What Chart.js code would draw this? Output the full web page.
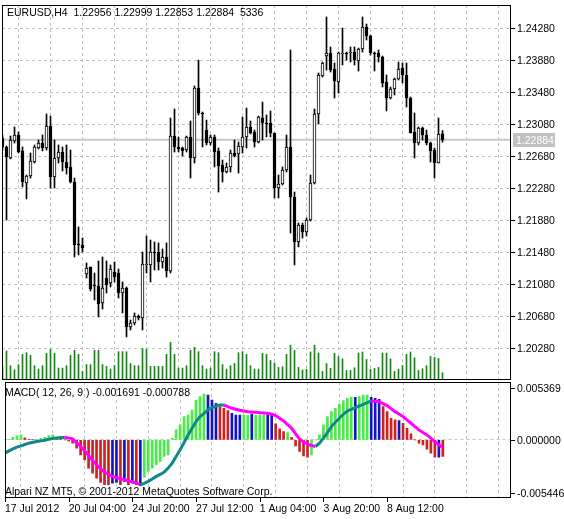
<!DOCTYPE html>
<html lang="en">
<head>
<meta charset="UTF-8">
<title>EURUSD H4 MACD</title>
<script src="https://cdn.jsdelivr.net/npm/chart.js"></script>
<style>
  body { margin: 0; background: #fff; }
  #wrap { position: relative; width: 564px; height: 519px; }
  #priceBox { position: absolute; left: 0; top: 0; width: 564px; height: 381px; }
  #macdBox { position: absolute; left: 0; top: 381px; width: 564px; height: 138px; }
</style>
</head>
<body>
<div id="wrap">
  <div id="priceBox"><canvas id="priceChart"></canvas></div>
  <div id="macdBox"><canvas id="macdChart"></canvas></div>
</div>
<script>
// EURUSD H4 candles, [open, high, low, close]
var candles = [
  [1.22905,1.22943,1.22755,1.22793],[1.22793,1.22805,1.2188,1.22668],[1.22655,1.2293,1.22643,1.2288],
  [1.22868,1.23043,1.22843,1.22943],[1.22943,1.2298,1.22718,1.2273],[1.22743,1.22793,1.22293,1.22355],
  [1.22343,1.22443,1.22143,1.2243],[1.2243,1.22718,1.22405,1.22618],[1.22605,1.22818,1.22593,1.22793],
  [1.2278,1.2288,1.22768,1.22843],[1.22843,1.22943,1.22743,1.2278],[1.2278,1.23205,1.22755,1.23055],
  [1.23055,1.2318,1.2228,1.22418],[1.22418,1.2288,1.2228,1.22655],[1.22655,1.22818,1.22593,1.2273],
  [1.2273,1.22793,1.22493,1.22605],[1.22605,1.22818,1.22455,1.2253],[1.22543,1.22755,1.22343,1.22355],
  [1.22355,1.22405,1.21418,1.21568],[1.2158,1.21793,1.21443,1.21568],[1.21568,1.21655,1.2148,1.2153],
  [1.21205,1.21343,1.21155,1.2128],[1.21293,1.21293,1.20993,1.21018],[1.21068,1.21218,1.2088,1.21055],
  [1.21055,1.21368,1.20668,1.2083],[1.20843,1.21418,1.20768,1.2103],[1.21155,1.21368,1.20968,1.21068],
  [1.21093,1.21318,1.21043,1.21268],[1.2123,1.21355,1.21105,1.21168],[1.21218,1.21268,1.20905,1.20968],
  [1.20968,1.21105,1.20718,1.2103],[1.2103,1.21043,1.20418,1.20543],[1.20543,1.2063,1.20505,1.20593],
  [1.20593,1.20718,1.20568,1.2068],[1.2068,1.20693,1.2063,1.20655],[1.20655,1.2148,1.20505,1.2133],
  [1.21318,1.2168,1.21218,1.2133],[1.21318,1.2163,1.21105,1.2148],[1.2148,1.21605,1.21255,1.21468],
  [1.2148,1.21593,1.21255,1.21355],[1.21355,1.21518,1.2128,1.21418],[1.21418,1.21593,1.21168,1.21243],
  [1.21243,1.23155,1.21218,1.2293],[1.2293,1.23268,1.2273,1.22793],[1.22793,1.22918,1.2273,1.22768],
  [1.2278,1.22793,1.2268,1.22743],[1.22755,1.2293,1.2273,1.22918],[1.22918,1.23118,1.22405,1.22655],
  [1.22655,1.23555,1.22593,1.2353],[1.2353,1.2388,1.23193,1.23218],[1.23218,1.2323,1.22793,1.23205],
  [1.23005,1.2313,1.22818,1.22843],[1.22843,1.22943,1.22818,1.22918],[1.22918,1.22943,1.22543,1.2273],
  [1.22743,1.2278,1.2223,1.22555],[1.22568,1.2263,1.22355,1.2248],[1.2248,1.22593,1.22468,1.22543],
  [1.22543,1.22755,1.2248,1.22718],[1.22718,1.2288,1.22668,1.2268],[1.22705,1.22855,1.22468,1.22805],
  [1.22793,1.23168,1.22718,1.22918],[1.22918,1.2328,1.2278,1.23043],[1.23043,1.23118,1.22955,1.22968],
  [1.2298,1.23005,1.22793,1.22855],[1.22855,1.2318,1.22843,1.23168],[1.23155,1.23355,1.2288,1.23093],
  [1.23093,1.23193,1.22918,1.2308],[1.23093,1.23243,1.22918,1.22968],[1.22968,1.22968,1.22155,1.2228],
  [1.2228,1.22443,1.22155,1.2233],[1.2233,1.22543,1.22318,1.22505],[1.22505,1.22943,1.2248,1.22793],
  [1.22793,1.24005,1.21718,1.22168],[1.22168,1.2223,1.21318,1.21605],[1.21605,1.21843,1.21543,1.21818],
  [1.21818,1.21843,1.21655,1.2173],[1.2173,1.21905,1.2168,1.2188],[1.2188,1.22443,1.21868,1.22343],
  [1.22343,1.23268,1.2233,1.23205],[1.23205,1.23718,1.2308,1.23693],[1.2368,1.23855,1.23668,1.23843],
  [1.2393,1.24418,1.23755,1.23968],[1.23968,1.24043,1.2373,1.23755],[1.23768,1.23843,1.23405,1.23618],
  [1.23605,1.2398,1.23468,1.23968],[1.23955,1.2428,1.23818,1.23968],[1.23968,1.2398,1.2388,1.23955],
  [1.23968,1.24043,1.23855,1.2398],[1.2398,1.24043,1.23818,1.2388],[1.23868,1.2403,1.23743,1.24018],
  [1.24018,1.24418,1.2398,1.24293],[1.24293,1.2433,1.2413,1.2418],[1.2418,1.24193,1.23943,1.23968],
  [1.23968,1.2398,1.23743,1.23955],[1.23968,1.24005,1.23855,1.23918],[1.23918,1.2393,1.23543,1.23593],
  [1.23605,1.23693,1.23243,1.23405],[1.23405,1.23543,1.23393,1.23518],[1.23518,1.23655,1.23443,1.23643],
  [1.23643,1.23855,1.2363,1.23768],[1.2378,1.23843,1.23593,1.23693],[1.23693,1.23843,1.23293,1.23405],
  [1.23405,1.23418,1.22968,1.22968],[1.2298,1.23218,1.22655,1.22843],[1.22843,1.23043,1.22818,1.2303],
  [1.2303,1.23043,1.2288,1.22943],[1.22943,1.23005,1.22818,1.22843],[1.22843,1.22855,1.22605,1.22743],
  [1.22755,1.2278,1.22405,1.22593],[1.22593,1.23155,1.22593,1.22955],[1.22956,1.22999,1.22853,1.22884]
];

var volumes = [
  10000,21250,10500,7500,11250,18750,20000,18000,10500,8000,10500,
  19500,22500,19500,8750,8750,10500,18000,21750,18750,6250,
  11250,11250,21750,21750,11250,10000,8000,10500,20750,20750,
  20750,12000,10500,10500,23000,22500,10000,10000,10000,10000,
  18750,27500,18750,8750,8750,10500,21750,24000,20750,10500,
  8000,8750,20750,20000,11250,8000,10500,12000,20000,20750,
  18750,10500,8000,8000,19500,18750,
  14250,12500,9250,9750,18750,25500,21750,9250,7250,7750,
  20500,25500,19750,6250,12000,8500,19500,17250,15500,7000,
  7000,9000,19750,20500,15000,7750,8500,9250,19750,19750,
  15500,6250,8000,10500,18750,20500,16250,7000,8250,10500,
  17250,16500,15750,5336
];

var macdMain = [
  0,0.000068,0.000274,0.00041,0.000513,0.000205,0.000034,0.000034,0.000068,0.000171,
  0.000274,0.000445,0.000513,0.000171,0.000034,0,-0.000103,-0.000342,-0.000855,-0.001539,
  -0.002052,-0.002907,-0.00342,-0.003933,-0.004378,-0.004617,-0.004617,-0.004446,-0.004378,-0.004617,
  -0.004275,-0.004617,-0.004446,-0.004617,-0.00472,-0.00383,-0.003249,-0.002907,-0.002565,-0.002223,
  -0.00171,-0.001539,0.000171,0.001026,0.001539,0.002394,0.002565,0.003078,0.004104,0.004446,
  0.00472,0.004617,0.004104,0.003762,0.00342,0.003249,0.00301,0.002736,0.002565,0.002565,
  0.002565,0.002565,0.002668,0.002565,0.002565,0.002565,0.002565,0.002565,0.001642,0.001129,
  0.000855,0.000752,0.000274,-0.000616,-0.001197,-0.001642,-0.001778,-0.001539,0,0.000513,
  0.001539,0.002394,0.002907,0.003249,0.003694,0.004036,0.004275,0.004378,0.004378,0.004446,
  0.004617,0.004617,0.004378,0.004275,0.004172,0.00342,0.002907,0.002223,0.002052,0.001984,
  0.00171,0.001197,0.000616,0,-0.000342,-0.000513,-0.000958,-0.001368,-0.001778,-0.001778,-0.001691
];
// bar state of the coloured histogram: g = green, r = red, b = blue
var macdState = [
  'g','g','g','g','g','r','r','r','g','g','g','g','g','r','r','r','r','r','r','r',
  'r','r','r','r','r','r','r','b','b','r','b','r','b','r','b','g','g','g','g','g',
  'g','g','g','g','g','g','g','g','g','g','g','b','b','b','r','r','r','b','b','b',
  'g','g','b','g','g','g','b','b','r','r','r','g','r','r','r','r','r','g','g','g',
  'g','g','g','g','g','g','g','g','b','g','g','g','b','b','b','r','r','r','r','b',
  'r','r','r','r','r','r','r','r','r','b','r'
];
var macdSignal = [
  -0.001368,-0.001129,-0.000923,-0.000752,-0.000616,-0.000479,-0.000342,-0.000239,-0.000171,-0.000103,
  -0.000034,0.000068,0.000137,0.000205,0.000239,0.000239,0.000205,0.000103,-0.000274,-0.000684,
  -0.001129,-0.001607,-0.00212,-0.002565,-0.002975,-0.003317,-0.003557,-0.003762,-0.003899,-0.004001,
  -0.004104,-0.004207,-0.004309,-0.004446,-0.004617,-0.00448,-0.004275,-0.004036,-0.003762,-0.003557,
  -0.003317,-0.002907,-0.002394,-0.00171,-0.001026,-0.000274,0.000513,0.001197,0.001881,0.002394,
  0.002736,0.003078,0.003317,0.003488,0.003591,0.003591,0.00342,0.003249,0.003146,0.003044,
  0.002975,0.002907,0.002873,0.002839,0.002804,0.00277,0.002736,0.002633,0.002497,0.002223,
  0.001949,0.001573,0.001197,0.00065,0.000103,-0.000205,-0.000445,-0.000581,-0.000684,-0.000342,
  0.000171,0.000752,0.001368,0.001813,0.002223,0.002633,0.002975,0.003146,0.003317,0.003488,
  0.003659,0.00383,0.004001,0.003967,0.003933,0.003728,0.003523,0.003215,0.002907,0.002668,
  0.002394,0.002052,0.00171,0.001368,0.001026,0.000752,0.000513,0.000171,-0.000171,-0.000513,-0.000788
];

var priceTicks = [1.20280,1.20680,1.21080,1.21480,1.21880,1.22280,1.22680,1.23080,1.23480,1.23880,1.24280];
var macdTicks = [-0.005446, 0, 0.005369];
var timeLabels = {0:'17 Jul 2012',16:'20 Jul 04:00',32:'24 Jul 20:00',48:'27 Jul 12:00',64:'1 Aug 04:00',80:'3 Aug 20:00',96:'8 Aug 12:00'};
var lastPrice = 1.22884;
var title = 'EURUSD,H4  1.22956 1.22999 1.22853 1.22884  5336';
var macdTitle = 'MACD( 12, 26, 9 ) -0.001691 -0.000788';
var copyright = 'Alpari NZ MT5, \u00a9 2001-2012 MetaQuotes Software Corp.';

var FONT = '10.5px "Liberation Sans", Arial, sans-serif';
var GRID = '#c0c0c0';
var X_MIN = -0.125, X_MAX = 127.125;
var stateColor = { g: '#44ee44', r: '#cc2222', b: '#1414c0' };

function xTicks(scale) {
  scale.ticks = [];
  for (var i = 0; i <= 127; i += 8) scale.ticks.push({ value: i });
}
function fixWidth(scale) { scale.width = 53; }

// frame, tick marks, axis labels and texts drawn after the chart
function framePlugin(opts) {
  return {
    id: 'frame',
    afterDraw: function (chart) {
      var ctx = chart.ctx, a = chart.chartArea, ys = chart.scales.y;
      ctx.save();
      ctx.strokeStyle = '#000';
      ctx.lineWidth = 1;
      ctx.strokeRect(Math.round(a.left) + 0.5, Math.round(a.top) + 0.5,
        Math.round(a.right - a.left) - 1, Math.round(a.bottom - a.top) - 1);
      ctx.beginPath();
      ctx.fillStyle = '#000';
      ctx.font = FONT;
      ctx.textBaseline = 'middle';
      ctx.textAlign = 'left';
      opts.yTicks.forEach(function (v) {
        var y = Math.round(ys.getPixelForValue(v)) + 0.5;
        ctx.moveTo(a.right, y); ctx.lineTo(a.right + 4, y);
        ctx.fillText(v.toFixed(opts.digits), a.right + 6, y + 1);
      });
      if (opts.xTicks) {
        var xs = chart.scales.x;
        Object.keys(timeLabels).forEach(function (k) {
          var x = Math.round(xs.getPixelForValue(+k)) + 0.5;
          ctx.moveTo(x, a.bottom); ctx.lineTo(x, a.bottom + 4);
        });
      }
      ctx.stroke();
      ctx.textBaseline = 'alphabetic';
      opts.texts.forEach(function (t) { ctx.fillText(t[0], t[1], t[2]); });
      if (opts.lastPrice) {
        var yp = Math.round(ys.getPixelForValue(lastPrice));
        ctx.fillStyle = '#c0c0c0';
        ctx.fillRect(a.right + 2, yp - 7, 42, 14);
        ctx.fillStyle = '#fff';
        ctx.textBaseline = 'middle';
        ctx.fillText(lastPrice.toFixed(5), a.right + 5, yp + 1);
      }
      ctx.restore();
    }
  };
}

var idx = candles.map(function (c, i) { return i; });

new Chart(document.getElementById('priceChart'), {
  type: 'bar',
  data: {
    datasets: [
      {
        type: 'line', label: 'last', order: 4,
        data: [{ x: X_MIN, y: lastPrice }, { x: X_MAX, y: lastPrice }],
        borderColor: '#c8c8c8', borderWidth: 2, pointRadius: 0, yAxisID: 'y'
      },
      {
        label: 'volume', order: 3, yAxisID: 'v', grouped: false, barThickness: 1,
        data: idx.map(function (i) { return { x: i, y: volumes[i] }; }),
        backgroundColor: '#108a10'
      },
      {
        label: 'wick', order: 2, yAxisID: 'y', grouped: false, barThickness: 1,
        data: idx.map(function (i) { return { x: i, y: [candles[i][2], candles[i][1]] }; }),
        backgroundColor: '#000'
      },
      {
        label: 'body', order: 1, yAxisID: 'y', grouped: false, barThickness: 3,
        minBarLength: 1, borderSkipped: false, borderWidth: 1, borderColor: '#000',
        data: idx.map(function (i) {
          var c = candles[i];
          return { x: i, y: [Math.min(c[0], c[3]), Math.max(c[0], c[3])] };
        }),
        backgroundColor: idx.map(function (i) { return candles[i][3] >= candles[i][0] ? '#fff' : '#000'; })
      }
    ]
  },
  options: {
    responsive: true, maintainAspectRatio: false, animation: false,
    layout: { padding: { top: 5, left: 2, right: 0, bottom: 1 } },
    plugins: { legend: { display: false }, tooltip: { enabled: false } },
    scales: {
      x: {
        type: 'linear', min: X_MIN, max: X_MAX, offset: false,
        afterBuildTicks: xTicks,
        afterFit: function (s) { s.height = 0; },
        ticks: { display: false },
        grid: { color: GRID, drawTicks: false },
        border: { display: false, dash: [3, 3] }
      },
      y: {
        position: 'right', min: 1.1988, max: 1.24568,
        afterBuildTicks: function (s) { s.ticks = priceTicks.map(function (v) { return { value: v }; }); },
        afterFit: fixWidth,
        ticks: { display: false },
        grid: { color: GRID, drawTicks: false },
        border: { display: false, dash: [3, 3] }
      },
      v: { display: false, min: 0, max: 274500 }
    }
  },
  plugins: [framePlugin({ texts: [[title, 7, 16]], lastPrice: true, yTicks: priceTicks, digits: 5 })]
});

new Chart(document.getElementById('macdChart'), {
  type: 'bar',
  data: {
    datasets: [
      {
        type: 'line', label: 'signal', order: 1,
        data: idx.map(function (i) { return { x: i, y: macdSignal[i] }; }),
        borderWidth: 3, pointRadius: 0, tension: 0,
        borderColor: '#ff00ff',
        segment: {
          borderColor: function (c) { return c.p1.parsed.y >= c.p0.parsed.y ? '#108888' : '#ff00ff'; }
        }
      },
      {
        label: 'macd', order: 2, grouped: false, barThickness: 2,
        data: idx.map(function (i) { return { x: i, y: macdMain[i] }; }),
        backgroundColor: idx.map(function (i) { return stateColor[macdState[i]]; })
      }
    ]
  },
  options: {
    responsive: true, maintainAspectRatio: false, animation: false,
    layout: { padding: { top: 1, left: 2, right: 0, bottom: 0 } },
    plugins: { legend: { display: false }, tooltip: { enabled: false } },
    scales: {
      x: {
        type: 'linear', min: X_MIN, max: X_MAX, offset: false,
        afterBuildTicks: xTicks,
        afterFit: function (s) { s.height = 21; },
        ticks: {
          autoSkip: false, maxRotation: 0, align: 'start', padding: 5, color: '#000',
          font: { family: '"Liberation Sans", Arial', size: 10.5 },
          callback: function (v) { return timeLabels[v] || ''; }
        },
        grid: { color: GRID, drawTicks: false },
        border: { display: false, dash: [3, 3] }
      },
      y: {
        position: 'right', min: -0.005984, max: 0.005958,
        afterBuildTicks: function (s) { s.ticks = macdTicks.map(function (v) { return { value: v }; }); },
        afterFit: fixWidth,
        ticks: { display: false },
        grid: { color: function (c) { return c.tick && c.tick.value === 0 ? GRID : 'rgba(0,0,0,0)'; }, drawTicks: false },
        border: { display: false, dash: [3, 3] }
      }
    }
  },
  plugins: [framePlugin({ texts: [[macdTitle, 5, 15], [copyright, 5, 114]], xTicks: true, yTicks: macdTicks, digits: 6 })]
});
</script>
</body>
</html>
